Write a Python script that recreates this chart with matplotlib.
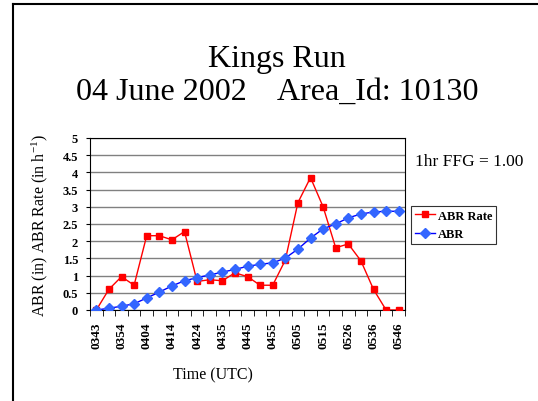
import matplotlib.pyplot as plt
from matplotlib.lines import Line2D

plt.rcParams['font.family'] = ['Liberation Serif', 'DejaVu Serif']
plt.rcParams['mathtext.fontset'] = 'custom'
plt.rcParams['mathtext.rm'] = 'Liberation Serif'
plt.rcParams['mathtext.default'] = 'rm'

times = ["0343", "0348", "0354", "0359", "0404", "0409", "0414", "0419", "0424",
         "0430", "0435", "0440", "0445", "0450", "0455", "0500", "0505", "0510",
         "0515", "0520", "0526", "0531", "0536", "0541", "0546"]

abr_rate = [0, 0.60, 0.97, 0.72, 2.16, 2.16, 2.04, 2.28, 0.83, 0.88, 0.85,
            1.08, 0.97, 0.72, 0.72, 1.45, 3.12, 3.85, 3.00, 1.81, 1.92, 1.43,
            0.60, 0, 0]

abr = [0, 0.05, 0.11, 0.18, 0.35, 0.52, 0.70, 0.85, 0.94, 1.02, 1.10, 1.18,
       1.27, 1.33, 1.37, 1.51, 1.77, 2.09, 2.36, 2.50, 2.68, 2.79, 2.85, 2.87,
       2.87]

W, H = 538, 402
fig = plt.figure(figsize=(W / 100, H / 100), dpi=100)

# chart area frame: only left and top edges are inside the picture
fig.add_artist(Line2D([13 / W, 13 / W], [0, 1 - 5 / H], color='black',
                      linewidth=1.5, transform=fig.transFigure))
fig.add_artist(Line2D([13 / W, 1], [1 - 5 / H, 1 - 5 / H], color='black',
                      linewidth=1.5, transform=fig.transFigure))

fig.text(277 / W, 1 - 67 / H, "Kings Run", ha='center', va='baseline', fontsize=23)
fig.text(277 / W, 1 - 100 / H, "04 June 2002    Area_Id: 10130", ha='center',
         va='baseline', fontsize=23)

ax = fig.add_axes([90 / W, 1 - 311 / H, 315 / W, 172 / H])
x = list(range(len(times)))

ax.plot(x, abr_rate, color='#FF0000', linewidth=1, marker='s', markersize=4.5,
        markerfacecolor='#FF0000', markeredgecolor='#FF0000', zorder=3)
ax.plot(x, abr, color='#0000FF', linewidth=1, marker='D', markersize=4.8,
        markerfacecolor='#3366FF', markeredgecolor='#3366FF', zorder=4)

ax.set_xlim(-0.5, len(times) - 0.5)
ax.set_ylim(0, 5)
ax.set_yticks([i * 0.5 for i in range(11)])
ax.set_yticklabels(['0', '0.5', '1', '1.5', '2', '2.5', '3', '3.5', '4', '4.5', '5'],
                   fontweight='bold', fontsize=9)
ax.yaxis.grid(True, color='#808080', linewidth=1)
ax.set_axisbelow(True)

ax.set_xticks(x[::2])
ax.set_xticklabels(times[::2], rotation=90, fontweight='bold', fontsize=9.5)
ax.tick_params(axis='x', length=0, pad=8)
ax.set_xticks([i - 0.5 for i in range(len(times) + 1)], minor=True)
ax.tick_params(axis='x', which='minor', length=4, direction='out', color='black')
ax.tick_params(axis='y', length=3, direction='out', pad=5.5)

for s in ax.spines.values():
    s.set_color('black')

ax.set_ylabel("ABR (in) ABR Rate (in h$^{-1}$)", fontsize=11.5)
ax.yaxis.set_label_coords(-40 / 315, 0.5)

fig.text(213 / W, 1 - 375 / H, "Time (UTC)", ha='center', va='center', fontsize=11.5)
fig.text(415 / W, 1 - 166 / H, "1hr FFG = 1.00", fontsize=12.5, va='baseline')

handles = [Line2D([], [], color='#FF0000', marker='s', markersize=4.5, linewidth=1),
           Line2D([], [], color='#0000FF', marker='D', markersize=4.8, linewidth=1,
                  markerfacecolor='#3366FF', markeredgecolor='#3366FF')]
leg = fig.legend(handles, ["ABR Rate", "ABR"], loc='upper left',
                 bbox_to_anchor=(411 / W, 1 - 207 / H), prop={'weight': 'bold', 'size': 9},
                 frameon=True, fancybox=False, edgecolor='black', handlelength=1.6,
                 borderpad=0.3, labelspacing=0.5, handletextpad=0.25, borderaxespad=0)
leg.get_frame().set_linewidth(0.8)

fig.savefig("out.png", dpi=100)
